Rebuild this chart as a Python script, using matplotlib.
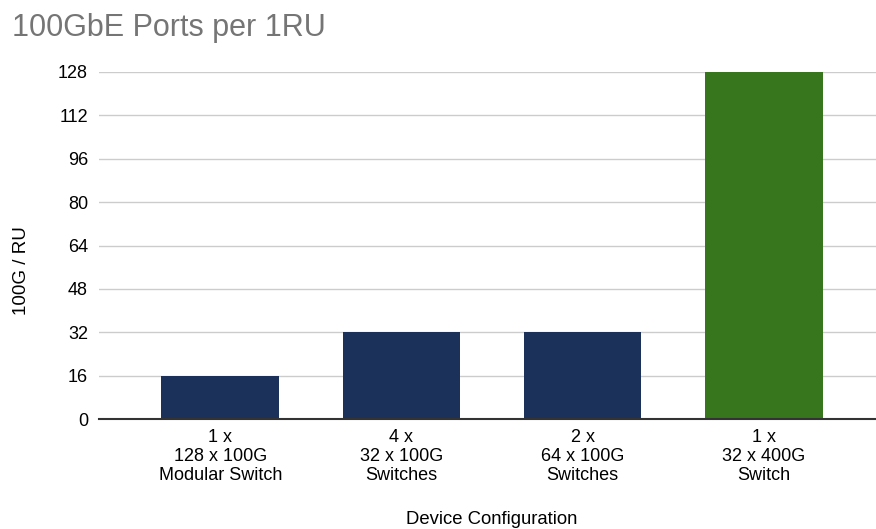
import matplotlib.pyplot as plt
import numpy as np

#------------------------------------------------------------------------------------
# Data
#------------------------------------------------------------------------------------
configs = ["1 x\n128 x 100G\nModular Switch",
           "4 x\n32 x 100G\nSwitches",
           "2 x\n64 x 100G\nSwitches",
           "1 x\n32 x 400G\nSwitch"]
ports_per_ru = [16, 32, 32, 128]
bar_colors = ['#1b3159', '#1b3159', '#1b3159', '#38761d']
y_ticks = [0, 16, 32, 48, 64, 80, 96, 112, 128]

plt.rcParams['font.family'] = ['Liberation Sans', 'DejaVu Sans']

#------------------------------------------------------------------------------------
# Figure and axes (right side runs past the frame like the cropped original)
#------------------------------------------------------------------------------------
W, H = 876, 529
fig = plt.figure(figsize=(W / 100, H / 100), dpi=100)
ax = fig.add_axes([99 / W, (H - 419) / H, (885 - 99) / W, (419 - 72) / H])

x = np.arange(len(configs))
ax.bar(x, ports_per_ru, width=0.65, color=bar_colors, zorder=3)

ax.set_xlim(-0.67, len(configs) - 0.33)
ax.set_ylim(0, 128)
ax.set_yticks(y_ticks)
ax.set_yticklabels([str(v) for v in y_ticks], fontsize=13)
ax.set_xticks(x)
ax.set_xticklabels(configs, fontsize=13, linespacing=1.15)
ax.tick_params(axis='both', length=0, colors='#000000')
ax.tick_params(axis='y', pad=8)
ax.tick_params(axis='x', pad=7)

ax.grid(axis='y', color='#cccccc', linewidth=1, zorder=0)
for s in ['top', 'right', 'left']:
    ax.spines[s].set_visible(False)
ax.spines['bottom'].set_color('#333333')
ax.spines['bottom'].set_linewidth(1.5)
ax.spines['bottom'].set_zorder(4)

#------------------------------------------------------------------------------------
# Text
#------------------------------------------------------------------------------------
fig.text(12 / W, 1 - 36 / H, "100GbE Ports per 1RU", fontsize=22, color='#757575',
         ha='left', va='baseline')
fig.text(22 / W, 1 - 271 / H, "100G / RU", fontsize=13.5, rotation=90,
         ha='center', va='center')
fig.text(492 / W, 1 - 524 / H, "Device Configuration", fontsize=13.3,
         ha='center', va='baseline')

plt.savefig("out.png", dpi=100)
plt.close()
